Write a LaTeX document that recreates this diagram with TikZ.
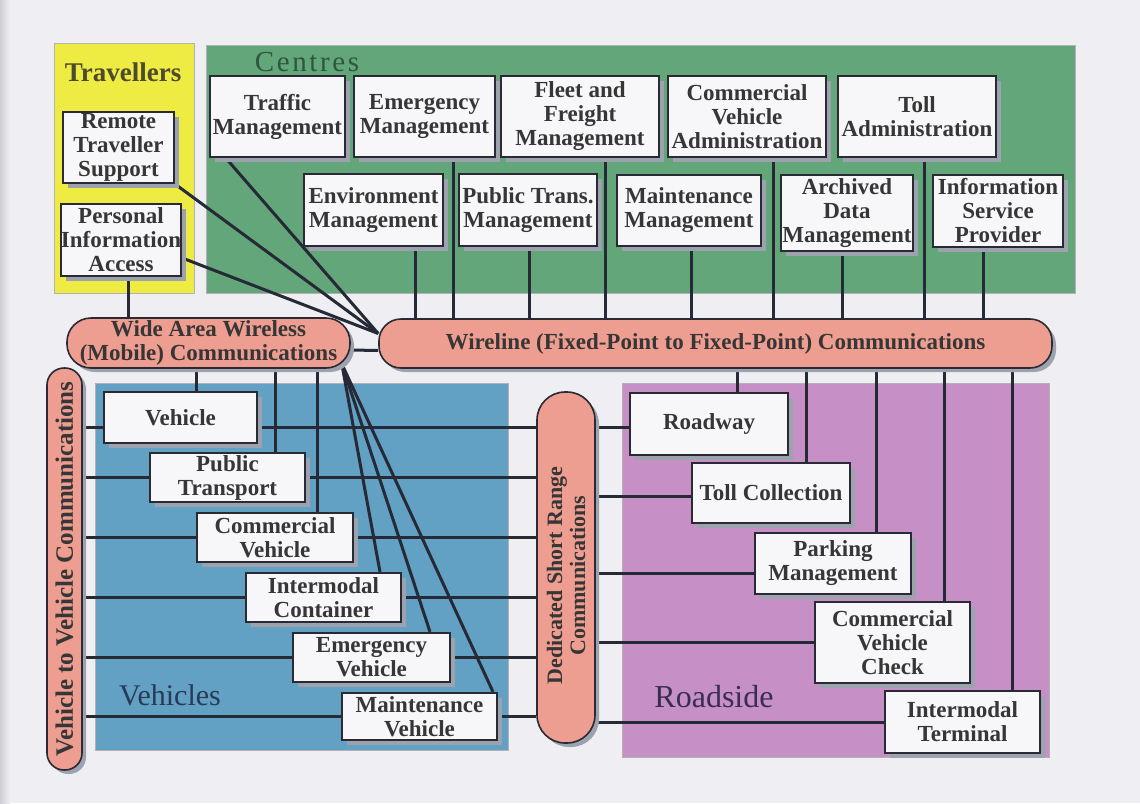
\documentclass[tikz,border=0pt]{standalone}
\usepackage{fontspec}
\setmainfont{Liberation Serif}
\usetikzlibrary{shadows,calc}

\definecolor{paper}{HTML}{EFEFF3}
\definecolor{paperedge}{HTML}{CFCFD4}
\definecolor{travyellow}{HTML}{EEEC42}
\definecolor{centgreen}{HTML}{62A67A}
\definecolor{vehblue}{HTML}{62A0C4}
\definecolor{roadpink}{HTML}{C690C6}
\definecolor{salmon}{HTML}{EE9E90}
\definecolor{boxfill}{HTML}{F7F7FA}
\definecolor{boxline}{HTML}{2A2A35}
\definecolor{shade}{HTML}{9CA2AE}
\definecolor{wire}{HTML}{262936}
\definecolor{ink}{HTML}{363636}
\definecolor{travink}{HTML}{4D4A2E}
\definecolor{centink}{HTML}{2E5640}
\definecolor{vehink}{HTML}{283A55}
\definecolor{roadink}{HTML}{3A2D50}

\newcommand\boxfont{\fontsize{23}{24}\selectfont\bfseries}

\pgfdeclarelayer{paperlayer}
\pgfdeclarelayer{panels}
\pgfdeclarelayer{links}
\pgfsetlayers{paperlayer,panels,links,main}

\tikzset{
  boxst/.style={draw=boxline, line width=2.3pt, fill=boxfill, text=ink,
    font=\boxfont, align=center, inner sep=0pt,
    drop shadow={shadow xshift=5pt, shadow yshift=-5pt, fill=shade, opacity=1}},
  pillst/.style={draw=boxline, line width=1.6pt, fill=salmon, text=ink,
    font=\boxfont, align=center, inner sep=0pt,
    drop shadow={shadow xshift=4pt, shadow yshift=-4pt, fill=shade, opacity=1}},
  panelst/.style={draw=black!30, line width=0.8pt},
  link/.style={draw=wire, line width=3pt},
}

% box from its corners: name, x1, y1, x2, y2, text
\newcommand\itsbox[6]{%
  \node[boxst, minimum width={(#4)-(#2)}, minimum height={(#5)-(#3)}]
    (#1) at ({((#2)+(#4))/2},{((#3)+(#5))/2}) {#6};}
% rounded communication bar: name, x1, y1, x2, y2, radius, extra options, text
\newcommand\itspill[8]{%
  \node[pillst, rounded corners=#6pt, minimum width={(#4)-(#2)},
    minimum height={(#5)-(#3)}, #7]
    (#1) at ({((#2)+(#4))/2},{((#3)+(#5))/2}) {#8};}

\begin{document}
\begin{tikzpicture}[x=1pt,y=-1pt]
\useasboundingbox (0,0) rectangle (1140,803);
\begin{pgfonlayer}{paperlayer}
  \fill[paper] (0,0) rectangle (1140,803);
  \fill[left color=paperedge, right color=paper] (0,0) rectangle (10,803);
\end{pgfonlayer}

% coloured areas
\begin{pgfonlayer}{panels}
  \fill[travyellow, panelst] (54,43) rectangle (194,293);
  \fill[centgreen, panelst] (206,45) rectangle (1075,293);
  \fill[vehblue, panelst] (95,383) rectangle (508,750);
  \fill[roadpink, panelst] (622,383) rectangle (1049,757);
\end{pgfonlayer}

% area titles
\node[font=\fontsize{27}{27}\selectfont\bfseries, text=travink] (travtitle) at (123,72) {Travellers};
\node[font=\fontsize{29}{29}\selectfont\addfontfeature{LetterSpace=9}, text=centink] (centtitle) at (307,62) {Centres};
\node[font=\fontsize{30}{30}\selectfont, text=vehink] (vehtitle) at (170,695) {Vehicles};
\node[font=\fontsize{32}{32}\selectfont, text=roadink] (roadtitle) at (714,697) {Roadside};

% travellers
\itsbox{rts}{63}{112}{174}{183}{Remote\\Traveller\\Support}
\itsbox{pia}{63}{204}{179}{276}{Personal\\Information\\Access}

% centres
\itsbox{tm}{210}{76}{345}{157}{Traffic\\Management}
\itsbox{em}{354}{76}{495}{157}{Emergency\\Management}
\itsbox{ff}{501}{76}{659}{157}{Fleet and\\Freight\\Management}
\itsbox{cva}{668}{76}{826}{157}{Commercial\\Vehicle\\Administration}
\itsbox{ta}{838}{76}{996}{157}{Toll\\Administration}
\itsbox{env}{304}{174}{443}{246}{Environment\\Management}
\itsbox{ptm}{459}{174}{597}{246}{Public Trans.\\Management}
\itsbox{mm}{617}{175}{761}{246}{Maintenance\\Management}
\itsbox{adm}{781}{175}{913}{251}{Archived\\Data\\Management}
\itsbox{isp}{933}{175}{1063}{247}{Information\\Service\\Provider}

% vehicles
\itsbox{veh}{104}{392}{257}{443}{Vehicle}
\itsbox{pt}{150}{453}{305}{502}{Public\\Transport}
\itsbox{cv}{197}{513}{353}{562}{Commercial\\Vehicle}
\itsbox{ic}{246}{573}{401}{622}{Intermodal\\Container}
\itsbox{ev}{293}{633}{450}{682}{Emergency\\Vehicle}
\itsbox{mv}{342}{693}{497}{740}{Maintenance\\Vehicle}

% roadside
\itsbox{rw}{630}{393}{788}{455}{Roadway}
\itsbox{tc}{692}{463}{850}{523}{Toll Collection}
\itsbox{pm}{755}{533}{911}{594}{Parking\\Management}
\itsbox{cvc}{815}{602}{970}{683}{Commercial\\Vehicle\\Check}
\itsbox{it}{885}{691}{1040}{753}{Intermodal\\Terminal}

% communication bars
\itspill{waw}{67}{318}{350}{368}{24}{}{Wide Area Wireless\\(Mobile) Communications}
\itspill{wl}{379}{319}{1052}{368}{22}{}{Wireline (Fixed-Point to Fixed-Point) Communications}
\itspill{v2v}{47}{368}{82}{770}{17}{}{}
\itspill{dsrc}{537}{392}{595}{743}{28}{}{}
\node[font=\fontsize{25}{25}\selectfont\bfseries, text=ink, rotate=90] (v2vtext) at (v2v.center) {Vehicle to Vehicle Communications};
\node[font=\fontsize{22}{23}\selectfont\bfseries, text=ink, rotate=90, align=center] (dsrctext)
  at ([yshift=-8pt]dsrc.center) {Dedicated Short Range\\Communications};

\coordinate (wtip) at ([yshift=10pt]wl.west);
\coordinate (wfan) at ([xshift=-9pt,yshift=5pt]waw.south east);

\begin{pgfonlayer}{links}
  % travellers and traffic management to the wireline
  \draw[link] ([xshift=17pt]tm.south west) -- (wtip);
  \draw[link] (rts.south east) -- (wtip);
  \draw[link] ([yshift=-18pt]pia.east) -- (wtip);
  \draw[link] (128,0 |- pia.south) -- (128,0 |- waw.north);
  % centres to the wireline
  \draw[link] (415,0 |- env.south) -- (415,0 |- wl.north);
  \draw[link] (453,0 |- em.south) -- (453,0 |- wl.north);
  \draw[link] (529,0 |- ptm.south) -- (529,0 |- wl.north);
  \draw[link] (605,0 |- ff.south) -- (605,0 |- wl.north);
  \draw[link] (691,0 |- mm.south) -- (691,0 |- wl.north);
  \draw[link] (773,0 |- cva.south) -- (773,0 |- wl.north);
  \draw[link] (842,0 |- adm.south) -- (842,0 |- wl.north);
  \draw[link] (924,0 |- ta.south) -- (924,0 |- wl.north);
  \draw[link] (983,0 |- isp.south) -- (983,0 |- wl.north);
  % wide area wireless to wireline
  \draw[link] ([yshift=-7pt]waw.east) -- ([yshift=-7pt]wl.west);
  % wide area wireless to vehicles
  \draw[link] (196,0 |- waw.south) -- (196,0 |- veh.north);
  \draw[link] (275,0 |- waw.south) -- (275,0 |- pt.north);
  \draw[link] (317,0 |- waw.south) -- (317,0 |- cv.north);
  \draw[link] (wfan) -- (380,0 |- ic.north);
  \draw[link] (wfan) -- (430,0 |- ev.north);
  \draw[link] (wfan) -- (493,0 |- mv.north);
  % vehicle to vehicle and short range links
  \draw[link] (v2v.east |- 0,427) -- (veh.west |- 0,427);
  \draw[link] (veh.east |- 0,427) -- (dsrc.west |- 0,427);
  \foreach \v in {pt,cv,ic,ev,mv}{
    \draw[link] (v2v.east |- \v.west) -- (\v.west);
    \draw[link] (\v.east) -- (dsrc.west |- \v.east);
  }
  % short range to roadside
  \draw[link] (dsrc.east |- 0,427) -- (rw.west |- 0,427);
  \draw[link] (dsrc.east |- 0,496) -- (tc.west |- 0,496);
  \draw[link] (dsrc.east |- 0,573) -- (pm.west |- 0,573);
  \draw[link] (dsrc.east |- cvc.west) -- (cvc.west);
  \draw[link] (dsrc.east |- it.west) -- (it.west);
  % wireline to roadside
  \draw[link] (737,0 |- wl.south) -- (737,0 |- rw.north);
  \draw[link] (806,0 |- wl.south) -- (806,0 |- tc.north);
  \draw[link] (876,0 |- wl.south) -- (876,0 |- pm.north);
  \draw[link] (944,0 |- wl.south) -- (944,0 |- cvc.north);
  \draw[link] (1012,0 |- wl.south) -- (1012,0 |- it.north);
\end{pgfonlayer}
\end{tikzpicture}
\end{document}
